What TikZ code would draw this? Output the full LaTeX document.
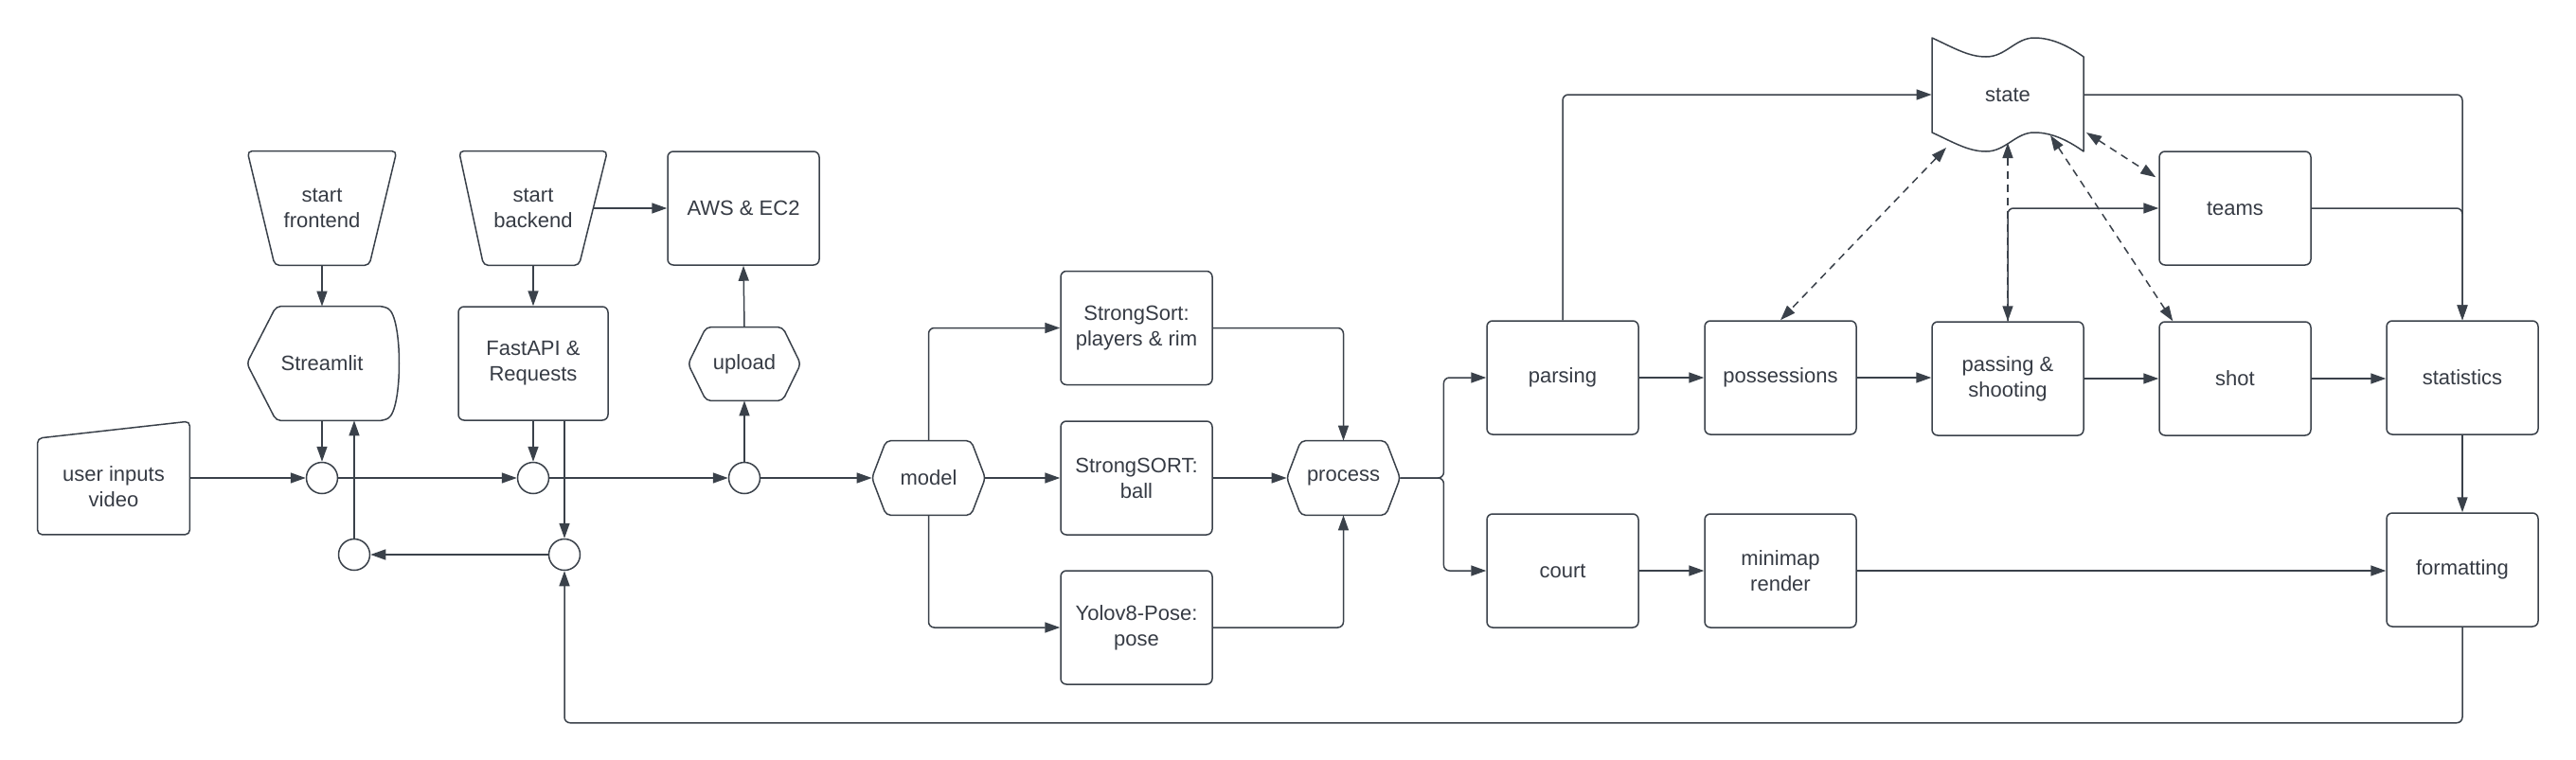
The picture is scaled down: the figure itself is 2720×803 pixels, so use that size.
\documentclass[tikz,border=0pt]{standalone}
\usepackage{fontspec}
\setmainfont{Liberation Sans}
\usetikzlibrary{arrows.meta,calc}
\definecolor{linec}{HTML}{3A414A}
\definecolor{textc}{HTML}{363B44}
\newcommand\drawhex[2]{\draw[shp] (#1.west) -- ($(#1.north west)+(#2,0)$) -- ($(#1.north east)+(-#2,0)$) -- (#1.east) -- ($(#1.south east)+(-#2,0)$) -- ($(#1.south west)+(#2,0)$) -- cycle;}
\begin{document}
\begin{tikzpicture}[x=0.5pt,y=-0.5pt,
  every node/.style={font=\fontsize{11}{13.5}\selectfont, text=textc},
  ln/.style={draw=linec, line width=0.75pt},
  box/.style={ln, rectangle, rounded corners=3pt, minimum width=80pt, minimum height=60pt, align=center, inner sep=0pt},
  ghost/.style={rectangle, minimum width=80pt, minimum height=60pt, align=center, inner sep=0pt},
  shp/.style={ln, rounded corners=2.5pt, line join=round},
  circ/.style={ln, circle, minimum size=16.5pt, inner sep=0pt},
  arr/.style={ln, -{Triangle[length=8pt,width=5.5pt]}, rounded corners=3pt},
  darr/.style={ln, {Triangle[length=8pt,width=5.5pt]}-{Triangle[length=8pt,width=5.5pt]}, dash pattern=on 4pt off 3pt},
]
\path[use as bounding box] (0,0) rectangle (2720,803);

% ---------- left part ----------
\node[ghost, minimum height=59.5pt] (user) at (120,505) {};
\draw[shp] (user.south west) -- ($(user.north west)+(0,18)$) -- (user.north east) -- (user.south east) -- cycle;
\node[align=center] at ($(user.center)+(0,9)$) {user inputs\\video};

\node[ghost, minimum width=78.5pt] (sfront) at (340,220) {start\\frontend};
\draw[shp] (sfront.north west) -- (sfront.north east) -- ($(sfront.south east)+(-29,0)$) -- ($(sfront.south west)+(29,0)$) -- cycle;

\node[ghost, minimum width=78pt] (sback) at (563,220) {start\\backend};
\draw[shp] (sback.north west) -- (sback.north east) -- ($(sback.south east)+(-30,0)$) -- ($(sback.south west)+(26,0)$) -- cycle;

\node[ghost, minimum width=79pt] (streamlit) at (340,384) {Streamlit};
\draw[shp] (streamlit.west) -- ($(streamlit.north west)+(31,0)$) -- ($(streamlit.north east)+(-14,0)$) .. controls ($(streamlit.north east)+(6,11)$) and ($(streamlit.south east)+(6,-11)$) .. ($(streamlit.south east)+(-14,0)$) -- ($(streamlit.south west)+(31,0)$) -- cycle;

\node[box, minimum width=79pt] (fastapi) at (563,384) {FastAPI \&\\Requests};
\node[box] (aws) at (785,220) {AWS \& EC2};

\node[ghost, minimum width=59pt, minimum height=38.5pt] (upload) at (786,384.5) {upload};
\drawhex{upload}{19}

\node[circ] (c1) at (340,505) {};
\node[circ] (c2) at (563,505) {};
\node[circ] (c3) at (786,505) {};
\node[circ] (c4) at (374,586) {};
\node[circ] (c5) at (596,586) {};

% ---------- middle ----------
\node[ghost, minimum width=59.5pt, minimum height=39pt] (model) at (980.5,505) {model};
\drawhex{model}{15}
\node[box] (ss1) at (1200,346.5) {StrongSort:\\players \& rim};
\node[box] (ss2) at (1200,505) {StrongSORT:\\ball};
\node[box] (yolo) at (1200,663) {Yolov8-Pose:\\pose};
\node[ghost, minimum width=59.5pt, minimum height=39pt] (process) at (1418.5,505) {process};
\drawhex{process}{15}

% ---------- right part ----------
\node[ghost] (state) at (2120,100) {state};
\draw[ln, line join=round] (2040,40) .. controls (2062,50) and (2078,60) .. (2097,60) .. controls (2118,60) and (2128,40) .. (2148,40) .. controls (2168,40) and (2186,50) .. (2200,60) -- (2200,160) .. controls (2186,150) and (2168,140) .. (2148,140) .. controls (2128,140) and (2118,160) .. (2097,160) .. controls (2078,160) and (2062,150) .. (2040,140) -- cycle;

\node[box] (parsing) at (1650,399) {parsing};
\node[box] (poss) at (1880,399) {possessions};
\node[box] (passing) at (2120,400) {passing \&\\shooting};
\node[box] (shot) at (2360,400) {shot};
\node[box] (stats) at (2600,399) {statistics};
\node[box] (teams) at (2360,220) {teams};
\node[box] (court) at (1650,603) {court};
\node[box] (minimap) at (1880,603) {minimap\\render};
\node[box] (format) at (2600,602) {formatting};

% ---------- connectors ----------
\draw[arr] (user.east |- c1.west) -- (c1.west);
\draw[arr] (sfront.south) -- (streamlit.north);
\draw[arr] (streamlit.south) -- (c1.north);
\draw[arr] (c4.north) -- (c4.north |- streamlit.south);
\draw[arr] (c1.east) -- (c2.west);
\draw[arr] (sback.south) -- (fastapi.north);
\draw[arr] (fastapi.south) -- (c2.north);
\draw[arr] (c5.north |- fastapi.south) -- (c5.north);
\draw[arr] (c5.west) -- (c4.east);
\draw[arr] (c2.east) -- (c3.west);
\draw[arr] (c3.north) -- (upload.south);
\draw[arr] (upload.north) -- (aws.south);
\draw[arr] ($(sback.east)+(-15,0)$) -- (aws.west);
\draw[arr] (c3.east) -- (model.west);

\draw[arr] (model.north) |- (ss1.west);
\draw[arr] (model.east) -- (ss2.west);
\draw[arr] (model.south) |- (yolo.west);
\draw[arr] (ss1.east) -| (process.north);
\draw[arr] (ss2.east) -- (process.west);
\draw[arr] (yolo.east) -| (process.south);
\draw[arr] (process.east) -- ++(46,0) |- (parsing.west);
\draw[arr] (process.east) -- ++(46,0) |- (court.west);

\draw[arr] (parsing.north) |- (state.west);
\draw[arr] (state.east) -| (stats.north);
\draw[arr] (teams.east) -| (stats.north);
\draw[arr] (passing.north) |- (teams.west);
\draw[arr] (parsing.east) -- (poss.west);
\draw[arr] (poss.east) -- (passing.west |- poss.east);
\draw[arr] (passing.east) -- (shot.west);
\draw[arr] (shot.east) -- (stats.west |- shot.east);
\draw[arr] (stats.south) -- (format.north);
\draw[arr] (court.east) -- (minimap.west);
\draw[arr] (minimap.east) -- (format.west |- minimap.east);
\draw[arr] (format.south) -- ++(0,101) -| (c5.south);

\draw[darr] ($(state.center)+(-65,56)$) -- (poss.north);
\draw[darr] ($(state.center)+(0,51)$) -- (passing.north);
\draw[darr] ($(state.center)+(45,43)$) -- ($(shot.north west)+(15,0)$);
\draw[darr] ($(state.center)+(83,40)$) -- ($(teams.north west)+(-3,28)$);
\end{tikzpicture}
\end{document}
